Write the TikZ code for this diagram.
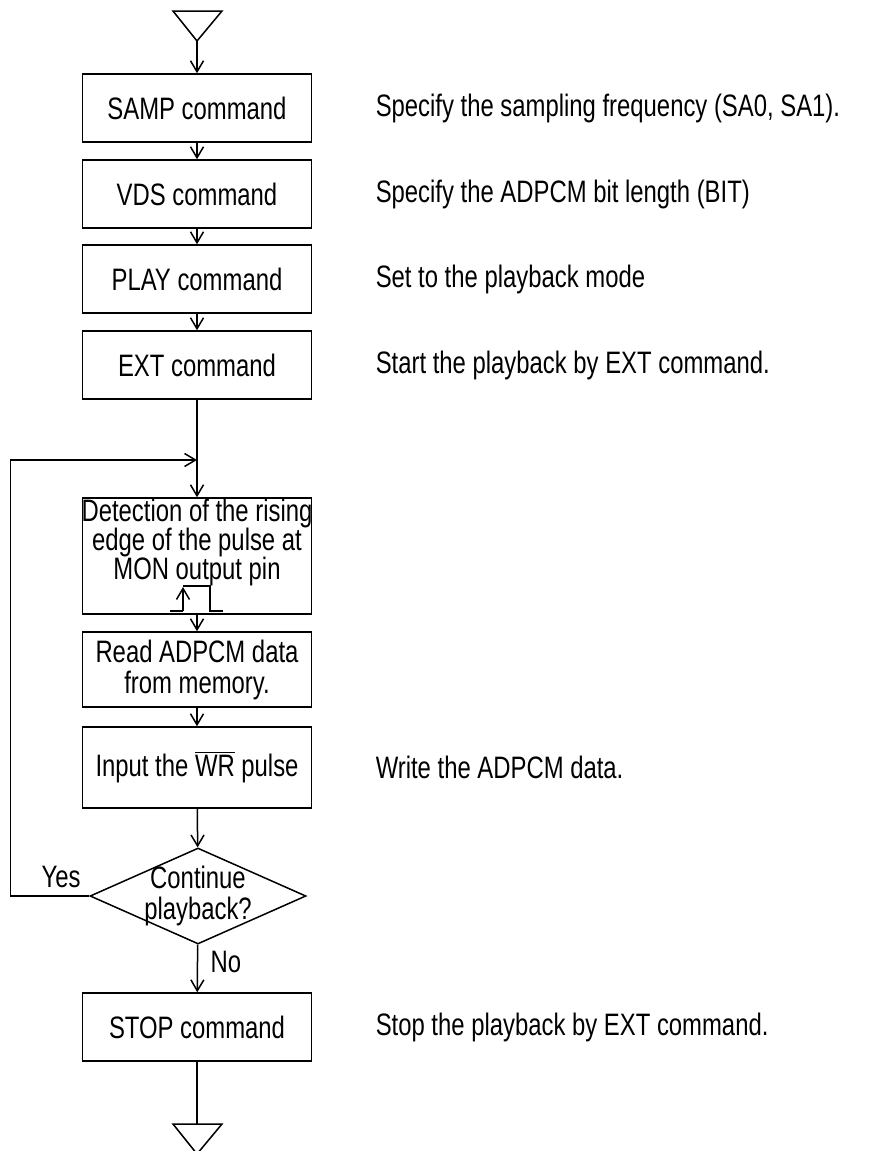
\documentclass[tikz,border=0pt]{standalone}
\usepackage{fontspec}
\setmainfont[FakeStretch=0.77]{Liberation Sans}
\usetikzlibrary{shapes.geometric, arrows.meta, positioning, calc}

\tikzset{
  stepbox/.style={draw, line width=0.75pt, minimum width=114.5pt, minimum height=34pt, inner sep=0pt, align=center},
  decision/.style={draw, diamond, line width=0.75pt, minimum width=108pt, minimum height=48pt, inner sep=0pt},
  arr/.style={-{Straight Barb[length=5.5pt,width=6.5pt]}, line width=0.75pt},
  note/.style={anchor=west, inner sep=0pt},
}

\begin{document}
\begin{tikzpicture}[x=0.5pt, y=-0.5pt, line width=0.75pt, font=\fontsize{15.5}{15.5}\selectfont]
        \useasboundingbox (0,0) rectangle (876,1151);

        %triangolo iniziale
        \draw (173,11) -- (222,11) -- (197,41) -- cycle;
        \coordinate (start) at (197,41);

        %blocchi comandi
        \node[stepbox] (samp) at (197,108) {SAMP command};
        \node[stepbox] (vds) at (197,194) {VDS command};
        \node[stepbox] (play) at (197,279) {PLAY command};
        \node[stepbox] (ext) at (197,365) {EXT command};
        \coordinate (loopin) at (197,460);
        \node[stepbox, minimum height=58pt] (detect) at (197,556) {};
        \node[below, align=center, inner sep=0.5pt] (detecttxt) at (detect.north) {Detection of the rising\\[-1pt]edge of the pulse at\\[-1pt]MON output pin};
        \node[stepbox, minimum height=37.5pt] (read) at (197,669.5) {Read ADPCM data\\from memory.};
        \node[stepbox, minimum height=40.5pt] (input) at (197,767.5) {Input the $\overline{\mbox{WR}}$ pulse};
        \node[decision] (cont) at (198,896) {};
        \node[align=center, inner sep=0pt] (conttxt) at (cont) {Continue\\playback?};
        \node[stepbox] (stop) at (197,1027) {STOP command};

        %impulso sul pin MON
        \draw (170,611) -- (183,611);
        \draw[arr] (183,611) -- (183,587);
        \draw (183,586) -- (210,586) -- (210,611) -- (223,611);

        %frecce
        \draw[arr] (start) -- (samp);
        \draw[arr] (samp) -- (vds);
        \draw[arr] (vds) -- (play);
        \draw[arr] (play) -- (ext);
        \draw (ext) -- (loopin);
        \draw[arr] (loopin) -- (detect);
        \draw[arr] (detect) -- (read);
        \draw[arr] (read) -- (input);
        \draw[arr] (input) -- (cont);
        \draw[arr] (cont) -- (stop);
        \draw[arr] (cont.west) -- ++(-79,0) |- (loopin);
        \node (yes) at (61,877) {Yes};
        \node (no) at (226,962) {No};

        %triangolo finale
        \draw (173,1124) -- (222,1124) -- (197,1154) -- cycle;
        \coordinate (end) at (197,1124);
        \draw (stop) -- (end);

        %note a destra
        \node[note] (nsamp) at (375,108) {Specify the sampling frequency (SA0, SA1).};
        \node[note] (nvds) at (375,194) {Specify the ADPCM bit length (BIT)};
        \node[note] (nplay) at (375,279) {Set to the playback mode};
        \node[note] (next) at (375,365) {Start the playback by EXT command.};
        \node[note] (ninput) at (375,767) {Write the ADPCM data.};
        \node[note] (nstop) at (375,1027) {Stop the playback by EXT command.};
    \end{tikzpicture}
\end{document}
